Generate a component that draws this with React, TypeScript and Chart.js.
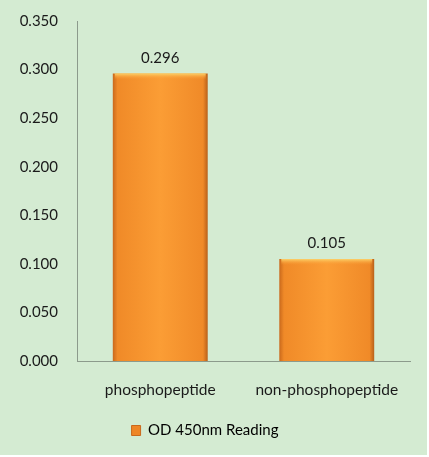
import { useEffect, useRef } from "react";
import { Chart, registerables } from "chart.js";

Chart.register(...registerables);

const categories = ["phosphopeptide", "non-phosphopeptide"];
const readings = [0.296, 0.105];
const seriesName = "OD 450nm Reading";
const yMax = 0.35;
const yStep = 0.05;

const FONT = "Lato, 'Open Sans', sans-serif";
const BAR_RATIO = 0.57;

const barFill = (ctx: any) => {
  const chart = ctx.chart;
  const xs = chart.scales?.x;
  if (!chart.chartArea || !xs || ctx.dataIndex === undefined) return "#f7952f";
  const center = xs.getPixelForValue(ctx.dataIndex);
  const half = (xs.width / categories.length) * BAR_RATIO / 2;
  const g = chart.ctx.createLinearGradient(center - half, 0, center + half, 0);
  g.addColorStop(0, "#c9691c");
  g.addColorStop(0.05, "#f08a28");
  g.addColorStop(0.5, "#fb9d35");
  g.addColorStop(0.95, "#f08a28");
  g.addColorStop(1, "#b8601a");
  return g;
};

// value labels above each bar, plus a light bevel at the bar top
const barExtras = {
  id: "barExtras",
  afterDatasetsDraw(chart: any) {
    const ctx = chart.ctx;
    const meta = chart.getDatasetMeta(0);
    ctx.save();
    meta.data.forEach((bar: any, i: number) => {
      const w = bar.width;
      const g = ctx.createLinearGradient(0, bar.y, 0, bar.y + 6);
      g.addColorStop(0, "#fcd26a");
      g.addColorStop(1, "rgba(250,156,52,0)");
      ctx.fillStyle = g;
      ctx.fillRect(bar.x - w / 2 + 2, bar.y, w - 4, 6);
      ctx.fillStyle = "#1a1a1a";
      ctx.font = `15px ${FONT}`;
      ctx.textAlign = "center";
      ctx.textBaseline = "bottom";
      ctx.fillText(readings[i].toFixed(3), bar.x, bar.y - 8);
    });
    ctx.restore();
  },
};

const background = {
  id: "background",
  beforeDraw(chart: any) {
    const ctx = chart.ctx;
    ctx.save();
    ctx.fillStyle = "#d4ebd2";
    ctx.fillRect(0, 0, chart.width, chart.height);
    ctx.restore();
  },
};

const App = () => {
  const canvasRef = useRef<HTMLCanvasElement>(null);

  useEffect(() => {
    document.body.style.margin = "0";
    const myChart = new Chart(canvasRef.current!, {
      type: "bar",
      data: {
        labels: categories,
        datasets: [
          {
            label: seriesName,
            data: readings,
            backgroundColor: barFill,
            borderWidth: 0,
            categoryPercentage: 1,
            barPercentage: BAR_RATIO,
          },
        ],
      },
      options: {
        animation: false,
        responsive: false,
        devicePixelRatio: 1,
        layout: { padding: { top: 21, right: 17, left: 0, bottom: 7 } },
        scales: {
          x: {
            grid: { display: false, drawTicks: false },
            border: { color: "#8c9a8c", width: 1 },
            ticks: { color: "#1a1a1a", font: { family: FONT, size: 15.5 }, padding: 20 },
            afterFit: (s: any) => {
              s.height = 50;
              s.paddingLeft = 0;
              s.paddingRight = 0;
            },
          },
          y: {
            min: 0,
            max: yMax,
            grid: { display: false, drawTicks: false },
            border: { color: "#8c9a8c", width: 1 },
            ticks: {
              stepSize: yStep,
              color: "#1a1a1a",
              font: { family: FONT, size: 15 },
              padding: 19,
              callback: (v: any) => Number(v).toFixed(3),
            },
            afterFit: (s: any) => {
              s.width = 77;
              s.paddingTop = 0;
              s.paddingBottom = 0;
            },
          },
        },
        plugins: {
          legend: {
            position: "bottom",
            labels: {
              color: "#1a1a1a",
              font: { family: FONT, size: 15 },
              boxWidth: 9,
              boxHeight: 10,
              padding: 12,
              generateLabels: () => [
                {
                  text: seriesName,
                  fillStyle: "#ee8626",
                  strokeStyle: "#c9691c",
                  lineWidth: 1,
                  datasetIndex: 0,
                },
              ],
            },
          },
          tooltip: { enabled: false },
        },
      },
      plugins: [background, barExtras],
    });
    return () => myChart.destroy();
  }, []);

  return (
    <div style={{ width: 429, height: 457, background: "#ffffff" }}>
      <canvas ref={canvasRef} width={427} height={455} style={{ display: "block" }}></canvas>
    </div>
  );
};

export default App;
